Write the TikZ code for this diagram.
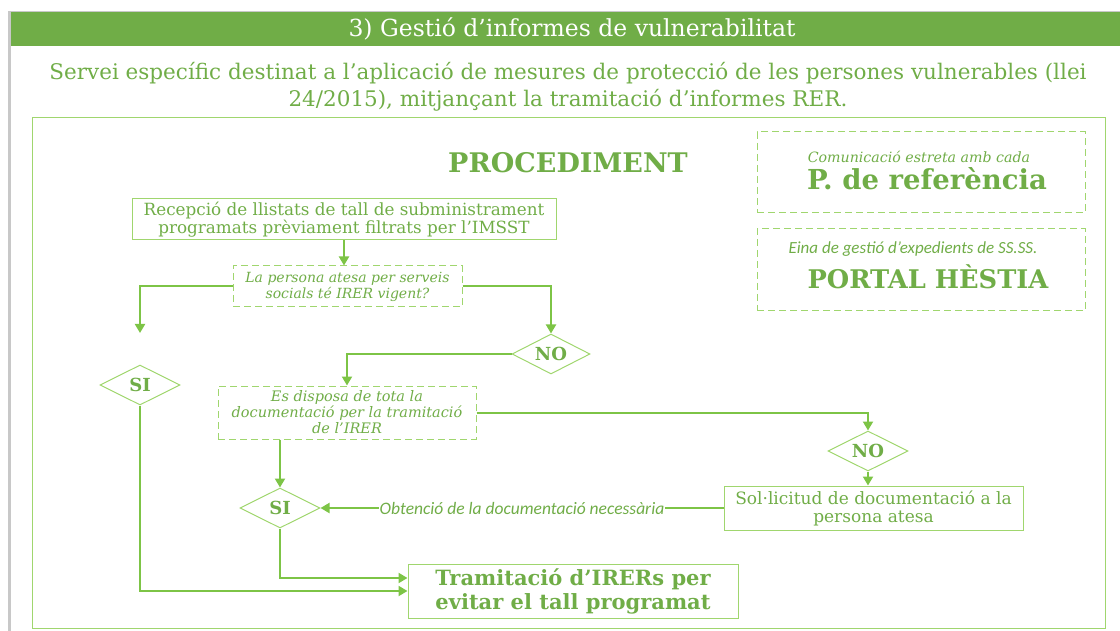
\documentclass[tikz,border=0pt]{standalone}
\usepackage{fontspec}
\setmainfont{DejaVu Serif}
\newfontfamily\calibrifont{Carlito}
\usetikzlibrary{shapes.geometric,arrows.meta}
\definecolor{bargreen}{RGB}{112,173,71}
\definecolor{linegreen}{RGB}{125,196,70}
\definecolor{boxgreen}{RGB}{160,214,110}
\definecolor{edgegray}{RGB}{200,200,200}

\begin{document}
\begin{tikzpicture}
[every node/.style={inner sep=0pt, text=bargreen, align=center},
 box/.style={rectangle, draw=boxgreen, line width=1pt},
 qbox/.style={rectangle, draw=boxgreen, line width=1pt, dash pattern=on 7pt off 4pt},
 choice/.style={diamond, aspect=2, draw=boxgreen, line width=1pt, minimum width=80pt, minimum height=40pt, font=\bfseries\fontsize{18}{18}\selectfont},
 link/.style={line width=2pt, color=linegreen, -{Triangle[width=10pt,length=9pt]}}]
\useasboundingbox (0pt, 0pt) rectangle (1120pt, -631pt);
\draw [line width=3pt, color=edgegray] (9pt, -11pt) -- (9pt, -631pt);
\draw [line width=0.8pt, color=edgegray] (9pt, -11pt) -- (1120pt, -11pt);
\fill [bargreen] (11pt, -12pt) rectangle (1120pt, -46pt);
\draw [line width=1pt, color=boxgreen] (32pt, -118pt) rectangle (1105pt, -628pt);
\node (10) [text=white, font=\fontsize{23.5}{26}\selectfont] at (572pt, -29pt) {3) Gestió d’informes de vulnerabilitat};
\node (11) [font=\fontsize{21.5}{27}\selectfont] at (568pt, -87pt) {Servei específic destinat a l’aplicació de mesures de protecció de les persones vulnerables (llei\\24/2015), mitjançant la tramitació d’informes RER.};
\node (12) [font=\bfseries\fontsize{27}{27}\selectfont] at (568pt, -163pt) {PROCEDIMENT};
\node (13) [qbox, minimum width=328pt, minimum height=81pt] at (921pt, -172.5pt) {};
\node (14) [font=\itshape\fontsize{14.2}{16}\selectfont] at (919pt, -157pt) {Comunicació estreta amb cada};
\node (15) [font=\bfseries\fontsize{27.5}{29}\selectfont] at (927pt, -179pt) {P. de referència};
\node (16) [qbox, minimum width=328pt, minimum height=82pt] at (921pt, -270pt) {};
\node (17) [font=\calibrifont\itshape\fontsize{17}{19}\selectfont] at (913pt, -249pt) {Eina de gestió d’expedients de SS.SS.};
\node (18) [font=\bfseries\fontsize{25.7}{28}\selectfont] at (928pt, -277pt) {PORTAL HÈSTIA};
\node (1) [box, minimum width=424pt, minimum height=41pt, font=\fontsize{16.8}{16.5}\selectfont] at (344pt, -219.5pt) {Recepció de llistats de tall de subministrament\\programats prèviament filtrats per l’IMSST};
\node (2) [qbox, minimum width=229pt, minimum height=41pt, font=\itshape\fontsize{14}{16}\selectfont] at (347.5pt, -286.5pt) {La persona atesa per serveis\\socials té IRER vigent?};
\node (3) [choice] at (140pt, -385pt) {SI};
\node (4) [choice, minimum width=78pt] at (551pt, -354pt) {NO};
\node (5) [qbox, minimum width=258pt, minimum height=53pt, font=\itshape\fontsize{14.5}{16}\selectfont] at (347pt, -412.5pt) {Es disposa de tota la\\documentació per la tramitació\\de l’IRER};
\node (6) [choice] at (868pt, -451pt) {NO};
\node (7) [box, minimum width=299pt, minimum height=44pt, font=\fontsize{17}{18}\selectfont] at (873.5pt, -508pt) {Sol·licitud de documentació a la\\persona atesa};
\node (8) [choice] at (280pt, -508pt) {SI};
\node (9) [box, minimum width=330pt, minimum height=54pt, font=\bfseries\fontsize{21}{24}\selectfont] at (573pt, -591pt) {Tramitació d’IRERs per\\evitar el tall programat};
\coordinate (3a) at (140pt, -333pt);
\draw [link] (1.south) -- (1.south |- 2.north);
\draw [link] (2.west) -| (3a);
\draw [link] (2.east) -| (4.north);
\draw [link] (4.west) -| (5.north);
\draw [link] (5.east) -| (6.north);
\draw [link] (6.south) -- (6.south |- 7.north);
\draw [link] (7.west) -- node [fill=white, inner xsep=1pt, font=\calibrifont\itshape\fontsize{17.5}{19}\selectfont] {Obtenció de la documentació necessària} (8.east);
\draw [link] (8.north |- 5.south) -- (8.north);
\draw [link] (8.south) |- ([yshift=13pt]9.west);
\draw [link] (3.south) |- (9.west);
\end{tikzpicture}
\end{document}
